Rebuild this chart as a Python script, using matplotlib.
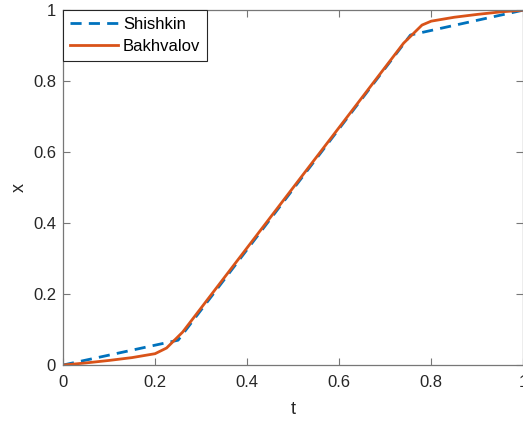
import matplotlib.pyplot as plt
import numpy as np

plt.rcParams['font.family'] = ['Liberation Sans', 'DejaVu Sans']

# Shishkin mesh: piecewise linear through two transition points
t_shishkin = [0.0, 0.25, 0.755, 1.0]
x_shishkin = [0.0, 0.07, 0.93, 1.0]

# Bakhvalov mesh: graded near the ends, linear in the middle
t_bakhvalov = [0.0, 0.05, 0.1, 0.15, 0.2, 0.225, 0.26, 0.5, 0.74, 0.78,
               0.8, 0.85, 0.9, 0.95, 1.0]
x_bakhvalov = [0.0, 0.006, 0.013, 0.021, 0.032, 0.048, 0.093, 0.5, 0.907, 0.958,
               0.969, 0.980, 0.988, 0.995, 1.0]

xticks = [0, 0.2, 0.4, 0.6, 0.8, 1]
yticks = [0, 0.2, 0.4, 0.6, 0.8, 1]
ticklabels = ['0', '0.2', '0.4', '0.6', '0.8', '1']

fig = plt.figure(figsize=(5.23, 4.23), dpi=100)
ax = fig.add_axes([0.1205, 0.137, 0.88, 0.839])

ax.plot(t_shishkin, x_shishkin, '--', color='#0072BD', lw=2, dashes=(4, 2.6),
        label='Shishkin')
ax.plot(t_bakhvalov, x_bakhvalov, '-', color='#D95319', lw=2, label='Bakhvalov')

ax.set_xlim(0, 1)
ax.set_ylim(0, 1)
ax.set_xticks(xticks)
ax.set_yticks(yticks)
ax.set_xticklabels(ticklabels)
ax.set_yticklabels(ticklabels)
ax.tick_params(direction='in', top=True, right=True, labelsize=12,
               labelcolor='#262626', color='#777777', length=5, width=0.8)
ax.tick_params(axis='x', pad=7)
ax.tick_params(axis='y', pad=5)
for s in ax.spines.values():
    s.set_color('#777777')
    s.set_linewidth(0.9)

ax.set_xlabel('t', fontsize=13, color='#262626', labelpad=8)
ax.set_ylabel('x', fontsize=13, color='#262626', labelpad=4)

leg = ax.legend(loc='upper left', fontsize=12, fancybox=False, framealpha=1,
                borderaxespad=0, handlelength=2.9, handletextpad=0.3,
                borderpad=0.4, labelspacing=0.45)
leg.get_frame().set_edgecolor('#262626')
leg.get_frame().set_linewidth(0.8)

fig.savefig('out.png', dpi=100)
